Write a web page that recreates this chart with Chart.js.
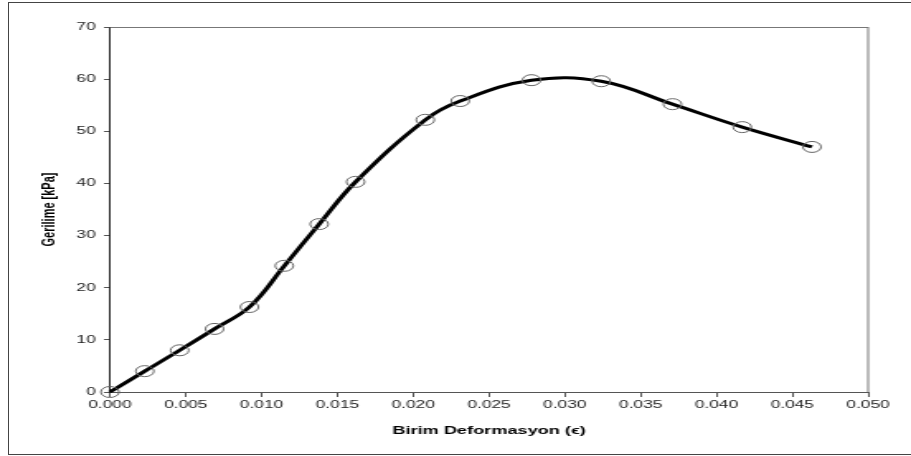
<!DOCTYPE html>
<html>
<head>
<meta charset="utf-8">
<script src="https://cdn.jsdelivr.net/npm/chart.js@4"></script>
<style>
    body { margin: 0; background: #fff; overflow: hidden; }
    #wrap { position: relative; width: 911px; height: 456px; overflow: hidden; }
    #frame {
        position: absolute; left: 8px; top: 2px; width: 1000px; height: 451px;
        border: 1px solid #444; border-right: none;
    }
    #myChart { position: absolute; left: 0; top: 0; }
</style>
</head>
<body>
<div id="wrap">
    <div id="frame"></div>
    <canvas id="myChart" width="552" height="456" style="width:911px;height:456px"></canvas>
</div>
<script>
// birim deformasyon (strain) and gerilme (stress, kPa)
const strainVals = [0, 0.0023, 0.0046, 0.0069, 0.0092, 0.0115, 0.0138, 0.0162,
                    0.0208, 0.0231, 0.0278, 0.0324, 0.0371, 0.0417, 0.0463];
const stressVals = [0, 4.0, 8.0, 12.1, 16.3, 24.2, 32.2, 40.3,
                    52.2, 55.8, 59.8, 59.6, 55.2, 50.8, 47.0];

const xTitle = 'Birim Deformasyon (\u03f5)';
const yTitle = 'Gerilime [kPa]';

// the original picture is stretched sideways, so the canvas is drawn narrow
// and widened by css (552 -> 911)
const plotFrame = {
    id: 'plotFrame',
    afterDraw(chart) {
        const { ctx, chartArea: { top, left, right, bottom } } = chart;
        ctx.save();
        ctx.strokeStyle = '#777';
        ctx.lineWidth = 1;
        ctx.beginPath();
        ctx.moveTo(left, top + 0.5);
        ctx.lineTo(right, top + 0.5);
        ctx.moveTo(right, top);
        ctx.lineTo(right, bottom);
        ctx.stroke();
        ctx.restore();
    }
};

document.addEventListener('DOMContentLoaded', function() {
    let ctx = document.getElementById('myChart').getContext('2d');
    let points = strainVals.map((x, i) => ({ x: x, y: stressVals[i] }));

    new Chart(ctx, {
        type: 'line',
        data: {
            datasets: [{
                data: points,
                borderColor: '#000',
                borderWidth: 3,
                tension: 0.4,
                fill: false,
                clip: false,
                pointRadius: 5.5,
                pointBorderColor: '#666',
                pointBorderWidth: 1,
                pointBackgroundColor: 'rgba(0,0,0,0)'
            }]
        },
        options: {
            responsive: false,
            animation: false,
            devicePixelRatio: 1,
            layout: {
                padding: { top: 27, right: 26, bottom: 0, left: 0 }
            },
            plugins: {
                legend: { display: false },
                tooltip: { enabled: false }
            },
            scales: {
                x: {
                    type: 'linear',
                    min: 0,
                    max: 0.05,
                    afterFit: function(scale) { scale.height = 64; },
                    grid: { drawOnChartArea: false, tickLength: 5, color: '#555' },
                    border: { color: '#555' },
                    ticks: {
                        stepSize: 0.005,
                        padding: 2,
                        color: '#222',
                        font: { family: 'Liberation Sans, Arial', size: 10.5 },
                        callback: v => v.toFixed(3)
                    },
                    title: {
                        display: true,
                        text: xTitle,
                        color: '#000',
                        padding: { top: 0, bottom: 18 },
                        font: { family: 'Liberation Sans, Arial', size: 11, weight: 'bold' }
                    }
                },
                y: {
                    min: 0,
                    max: 70,
                    afterFit: function(scale) { scale.width = 66.6; },
                    grid: { drawOnChartArea: false, tickLength: 3.6, color: '#555' },
                    border: { color: '#222' },
                    ticks: {
                        stepSize: 10,
                        padding: 5,
                        color: '#222',
                        font: { family: 'Liberation Sans, Arial', size: 10.5 }
                    },
                    title: {
                        display: true,
                        text: yTitle,
                        color: '#000',
                        padding: { top: 23, bottom: 0 },
                        font: { family: 'Liberation Sans, Arial', size: 11, weight: 'bold' }
                    }
                }
            }
        },
        plugins: [plotFrame]
    });
});
</script>
</body>
</html>
